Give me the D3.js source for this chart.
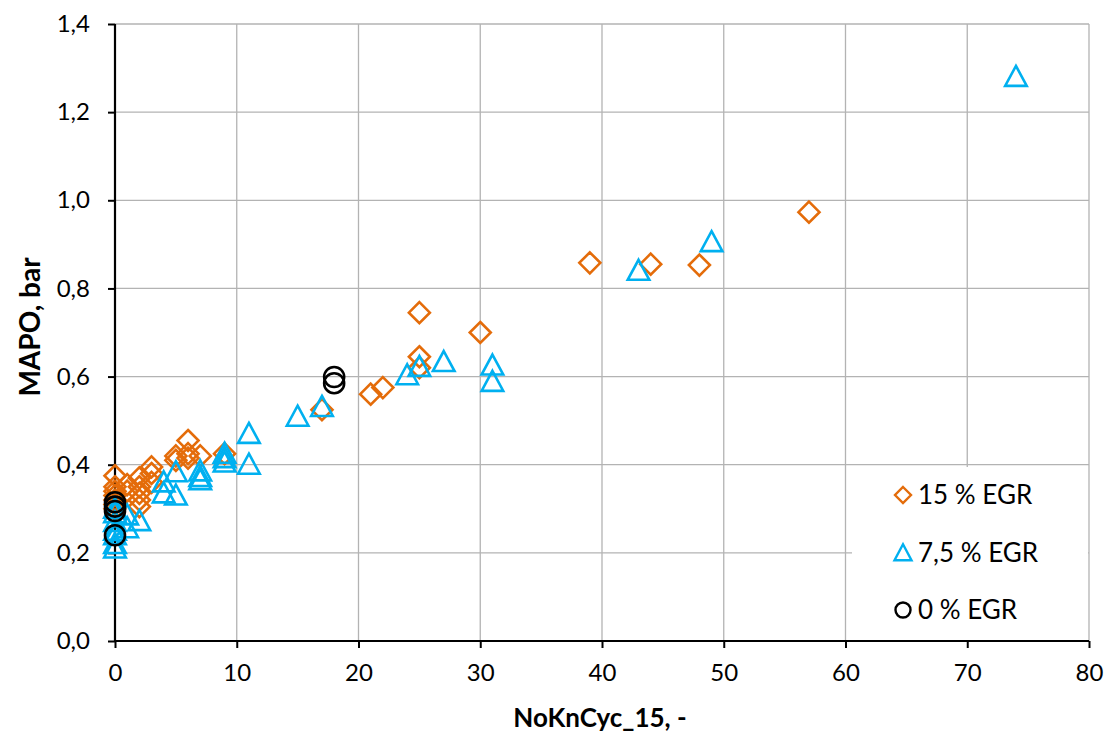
<!DOCTYPE html>
<html><head><meta charset="utf-8">
<script src="https://cdn.jsdelivr.net/npm/d3@7"></script>
<style>body{margin:0;background:#fff}svg{display:block}text{font-family:Lato,"Open Sans",sans-serif}</style>
</head><body><svg id="c" width="1106" height="733"></svg>
<script>
const xTicks=[0,10,20,30,40,50,60,70,80];
const yTicks=[0,0.2,0.4,0.6,0.8,1.0,1.2,1.4];
const seriesNames=["15 % EGR","7,5 % EGR","0 % EGR"];
const egr15X=[0,0,0,0,0,0,0,1,1,2,2,2,2,2,3,3,3,5,5,6,6,6,7,9,17,21,22,25,25,25,30,39,44,48,57];
const egr15Y=[0.375,0.35,0.34,0.33,0.32,0.31,0.30,0.355,0.34,0.37,0.35,0.335,0.32,0.305,0.395,0.38,0.36,0.41,0.42,0.455,0.425,0.415,0.42,0.425,0.525,0.56,0.575,0.745,0.645,0.62,0.70,0.858,0.855,0.853,0.973];
const egr75X=[0,0,0,0,0,0,0,1,1,2,4,4,5,5,7,7,7,9,9,9,11,11,15,17,24,25,27,31,31,43,49,74];
const egr75Y=[0.21,0.22,0.24,0.25,0.27,0.29,0.30,0.285,0.256,0.272,0.36,0.335,0.383,0.33,0.385,0.372,0.365,0.425,0.415,0.405,0.47,0.40,0.509,0.531,0.603,0.622,0.633,0.625,0.588,0.84,0.905,1.28];
const egr0X=[0,0,0,0,18,18];
const egr0Y=[0.315,0.305,0.295,0.24,0.599,0.585];

const svg=d3.select("#c");
const L=115,R=1089,T=24,B=641;
const x=d3.scaleLinear().domain([0,80]).range([L,R]);
const y=d3.scaleLinear().domain([0,1.4]).range([B,T]);
const fmt=v=>d3.format(".1f")(v).replace(".",",");

// grid
const g=svg.append("g");
g.selectAll(".gx").data(xTicks.slice(1)).enter().append("line")
 .attr("x1",d=>x(d)).attr("x2",d=>x(d)).attr("y1",T).attr("y2",B)
 .attr("stroke","#b3b3b3").attr("stroke-width",1.3);
g.selectAll(".gy").data(yTicks.slice(1)).enter().append("line")
 .attr("x1",L).attr("x2",R).attr("y1",d=>y(d)).attr("y2",d=>y(d))
 .attr("stroke","#b3b3b3").attr("stroke-width",1.3);

// legend background
svg.append("rect").attr("x",852).attr("y",467).attr("width",x(80)-852-1).attr("height",B-467-1).attr("fill","#fff");

// axes
const xAxis=d3.axisBottom(x).tickValues(xTicks).tickSize(7).tickPadding(16).tickFormat(d3.format("d"));
const yAxis=d3.axisLeft(y).tickValues(yTicks).tickSize(7).tickPadding(18).tickFormat(fmt);
const gx=svg.append("g").attr("transform",`translate(0,${B})`).call(xAxis);
const gy=svg.append("g").attr("transform",`translate(${L},0)`).call(yAxis);
[gx,gy].forEach(a=>{
  a.select(".domain").attr("stroke","#000").attr("stroke-width",2.2);
  a.selectAll(".tick line").attr("stroke","#000").attr("stroke-width",2);
  a.selectAll(".tick text").attr("font-size",24).attr("fill","#000").attr("font-family","Lato,sans-serif");
});
gy.select(".domain").attr("d",`M0,${B}V${T}`);
gx.select(".domain").attr("d",`M${L},0H${R}`);

// titles
svg.append("text").attr("x",600).attr("y",727).attr("text-anchor","middle")
 .attr("font-size",26).attr("font-weight","bold").text("NoKnCyc_15, -");
svg.append("text").attr("transform",`translate(40,327) rotate(-90)`).attr("text-anchor","middle")
 .attr("font-size",28).attr("font-weight","bold").text("MAPO, bar");

const cOr="#E46C0A", cBl="#00B0F0", cBk="#000";
const diamond=(s)=>`M0,${-s}L${s},0L0,${s}L${-s},0Z`;
const tri=(w,h)=>`M0,${-h*0.55}L${w},${h*0.45}L${-w},${h*0.45}Z`;

const pts=svg.append("g");
pts.selectAll(".d").data(egr15X.map((v,i)=>[v,egr15Y[i]])).enter().append("path")
 .attr("d",diamond(10.5)).attr("transform",d=>`translate(${x(d[0])},${y(d[1])})`)
 .attr("fill","none").attr("stroke",cOr).attr("stroke-width",2.6);
pts.selectAll(".t").data(egr75X.map((v,i)=>[v,egr75Y[i]])).enter().append("path")
 .attr("d",tri(10.8,20)).attr("transform",d=>`translate(${x(d[0])},${y(d[1])})`)
 .attr("fill","none").attr("stroke",cBl).attr("stroke-width",2.6);
pts.selectAll(".c").data(egr0X.map((v,i)=>[v,egr0Y[i]])).enter().append("circle")
 .attr("cx",d=>x(d[0])).attr("cy",d=>y(d[1])).attr("r",10)
 .attr("fill","none").attr("stroke",cBk).attr("stroke-width",2.6);

// legend
const lg=svg.append("g");
const ly=[495,553,610];
lg.append("path").attr("d",diamond(8)).attr("transform",`translate(903,${ly[0]})`).attr("fill","none").attr("stroke",cOr).attr("stroke-width",2.4);
lg.append("path").attr("d",tri(8.5,16)).attr("transform",`translate(903,${ly[1]})`).attr("fill","none").attr("stroke",cBl).attr("stroke-width",2.4);
lg.append("circle").attr("cx",903).attr("cy",ly[2]).attr("r",7.5).attr("fill","none").attr("stroke",cBk).attr("stroke-width",2.4);
seriesNames.forEach((n,i)=>lg.append("text").attr("x",918).attr("y",ly[i]+9).attr("font-size",26).attr("fill","#000").text(n));
</script></body></html>
